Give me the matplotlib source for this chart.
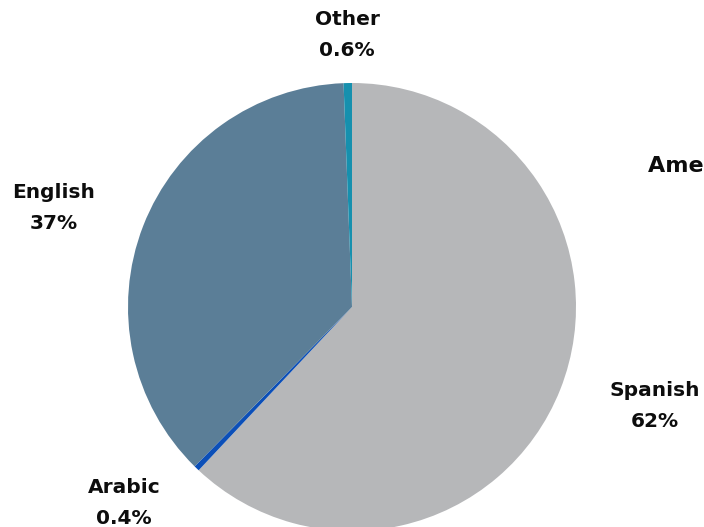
import matplotlib.pyplot as plt

# Languages spoken, share of total (%)
languages = ["Spanish", "Arabic", "English", "Other"]
shares = [62.0, 0.4, 37.0, 0.6]
share_labels = ["62%", "0.4%", "37%", "0.6%"]
colors = ["#b6b7b9", "#0b4fb8", "#5b7e97", "#1690ae"]

# label anchor points in pixel coords (x, y from top)
label_pos = {
    "Spanish": (655, 406),
    "Arabic": (124, 503),
    "English": (54, 208),
    "Other": (347, 35),
}

W, H = 704, 527
fig = plt.figure(figsize=(W / 100, H / 100), dpi=100)
ax = fig.add_axes([0, 0, 1, 1])

ax.pie(shares, colors=colors, startangle=90, counterclock=False,
       center=(352, H - 307), radius=224,
       wedgeprops=dict(linewidth=0), frame=True)
ax.set_xlim(0, W)
ax.set_ylim(0, H)
ax.set_aspect("equal")
ax.axis("off")

font = dict(fontsize=14.5, fontweight="heavy", family="DejaVu Sans",
            color="#0d0d0d", ha="center", va="center")
for lang, lab in zip(languages, share_labels):
    x, y = label_pos[lang]
    ax.text(x, H - y, f"{lang}\n{lab}", linespacing=1.75, **font)

# title runs off the right edge of the figure, as in the original
ax.text(648, H - 166, "American Community Survey", ha="left", va="center",
        fontsize=16, fontweight="heavy", family="DejaVu Sans", color="#0d0d0d",
        clip_on=False)

fig.savefig("out.png", dpi=100)
